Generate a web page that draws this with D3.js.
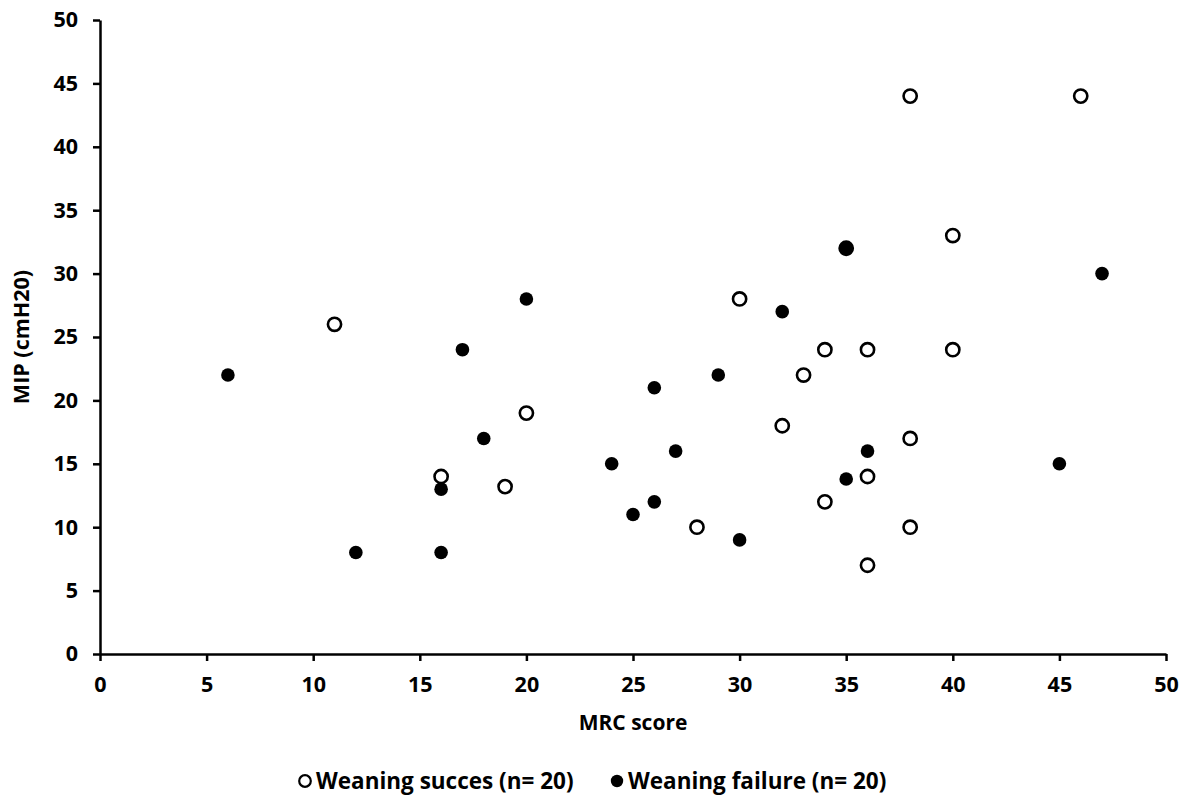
<!DOCTYPE html>
<html>
<head>
<meta charset="utf-8">
<script src="https://cdn.jsdelivr.net/npm/d3@7"></script>
<style>
    body { margin: 0; background: #fff; }
    svg text { font-family: "Open Sans", Lato, sans-serif; font-weight: bold; fill: #000; }
</style>
</head>
<body>
<div id="chart"></div>
<script>
// weaning success (open circles): MRC score / MIP
const successMrc = [11, 16, 19, 20, 28, 30, 32, 33, 34, 34, 35, 36, 36, 36, 38, 38, 38, 40, 40, 46];
const successMip = [26, 14, 13.2, 19, 10, 28, 18, 22, 24, 12, 32, 24, 14, 7, 44, 17, 10, 33, 24, 44];

// weaning failure (filled circles)
const failureMrc = [6, 12, 16, 16, 17, 18, 20, 24, 25, 26, 26, 27, 29, 30, 32, 35, 35, 36, 45, 47];
const failureMip = [22, 8, 13, 8, 24, 17, 28, 15, 11, 21, 12, 16, 22, 9, 27, 13.8, 32, 16, 15, 30];

const xTicks = [0, 5, 10, 15, 20, 25, 30, 35, 40, 45, 50];
const yTicks = [0, 5, 10, 15, 20, 25, 30, 35, 40, 45, 50];
const legendLabels = ['Weaning succes (n= 20)', 'Weaning failure (n= 20)'];

const width = 1191;
const height = 801;
const margins = {top: 20, right: 25, bottom: 147, left: 100};

const svg = d3.select('#chart')
    .append('svg')
    .attr('width', width)
    .attr('height', height);

const graphWidth = width - (margins.left + margins.right);
const graphHeight = height - (margins.top + margins.bottom);

const xScale = d3.scaleLinear().domain([0, 50]).range([0, graphWidth]);
const yScale = d3.scaleLinear().domain([0, 50]).range([graphHeight, 0]);

const xAxis = svg.append('g')
    .attr('transform', `translate(${margins.left}, ${margins.top + graphHeight})`)
    .call(d3.axisBottom(xScale).tickValues(xTicks).tickSize(7).tickSizeOuter(0).tickPadding(16));

const yAxis = svg.append('g')
    .attr('transform', `translate(${margins.left}, ${margins.top})`)
    .call(d3.axisLeft(yScale).tickValues(yTicks).tickSize(7).tickSizeOuter(0).tickPadding(15));

[xAxis, yAxis].forEach(ax => {
    ax.select('.domain').attr('stroke', '#000').attr('stroke-width', 2.5);
    ax.selectAll('.tick line').attr('stroke', '#000').attr('stroke-width', 2.5);
    ax.selectAll('.tick text').style('font-size', '21.5px');
});

svg.append('text')
    .attr('x', margins.left + graphWidth / 2)
    .attr('y', 730)
    .attr('text-anchor', 'middle')
    .style('font-size', '21px')
    .text('MRC score');

svg.append('text')
    .attr('transform', `translate(29, ${margins.top + graphHeight / 2}) rotate(-90)`)
    .attr('text-anchor', 'middle')
    .style('font-size', '21.5px')
    .text('MIP (cmH20)');

const graph = svg.append('g')
    .attr('transform', `translate(${margins.left}, ${margins.top})`);

graph.selectAll('circle.failure')
    .data(failureMrc.map((x, i) => ({x, y: failureMip[i]})))
    .enter()
    .append('circle')
    .attr('class', 'failure')
    .attr('cx', d => xScale(d.x))
    .attr('cy', d => yScale(d.y))
    .attr('r', 6.8)
    .attr('fill', '#000');

graph.selectAll('circle.success')
    .data(successMrc.map((x, i) => ({x, y: successMip[i]})))
    .enter()
    .append('circle')
    .attr('class', 'success')
    .attr('cx', d => xScale(d.x))
    .attr('cy', d => yScale(d.y))
    .attr('r', 6.6)
    .attr('fill', 'none')
    .attr('stroke', '#000')
    .attr('stroke-width', 2.6);

// legend
const legend = svg.append('g').attr('transform', 'translate(0, 781)');
const legendX = [305, 617];
legendLabels.forEach((label, i) => {
    const g = legend.append('g').attr('transform', `translate(${legendX[i]}, 0)`);
    if (i === 0) {
        g.append('circle').attr('r', 5.8).attr('fill', '#fff').attr('stroke', '#000').attr('stroke-width', 2.2);
    } else {
        g.append('circle').attr('r', 6.2).attr('fill', '#000');
    }
    g.append('text')
        .attr('x', 11)
        .attr('dy', '0.35em')
        .style('font-size', '22.5px')
        .text(label);
});
</script>
</body>
</html>
